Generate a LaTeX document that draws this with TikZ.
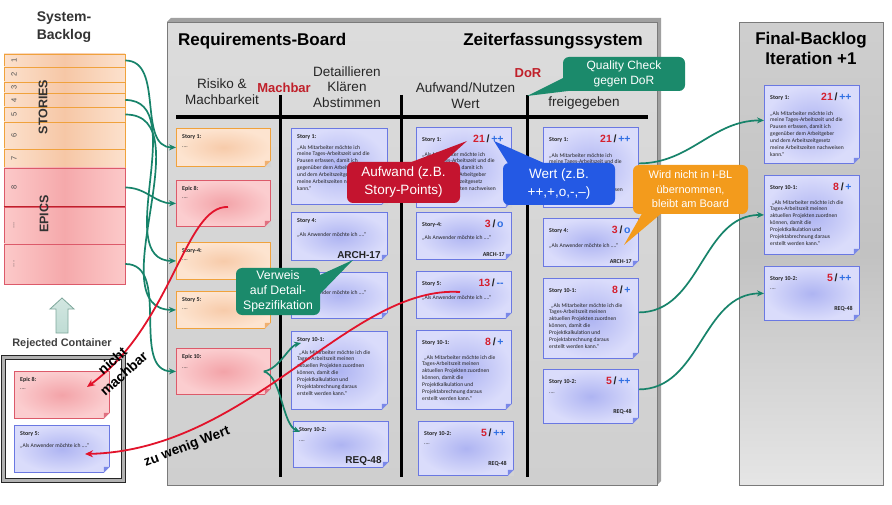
\documentclass[tikz,border=0pt]{standalone}
\usepackage{fontspec}
\setmainfont{Liberation Sans}
\newfontfamily\cardf{Carlito}
\usetikzlibrary{arrows.meta}
\definecolor{boardtop}{HTML}{DCDCDC}
\definecolor{boardbot}{HTML}{CFCFCF}
\definecolor{boardbg}{HTML}{D3D3D3}
\definecolor{boardedge}{HTML}{A0A0A0}
\definecolor{panelline}{HTML}{7A7A7A}
\definecolor{orgb}{HTML}{F0A23C}
\definecolor{orgin}{HTML}{F7CBAA}
\definecolor{orgout}{HTML}{FDE4D0}
\definecolor{ofold}{HTML}{F0B070}
\definecolor{pinkb}{HTML}{DC5A6A}
\definecolor{pinkin}{HTML}{F3A3A8}
\definecolor{pinkout}{HTML}{FBCDCF}
\definecolor{rfold}{HTML}{E07080}
\definecolor{blueb}{HTML}{6A78E2}
\definecolor{bluein}{HTML}{AEB4F2}
\definecolor{blueout}{HTML}{DADCFB}
\definecolor{bfold}{HTML}{7A88E8}
\definecolor{arrgreen}{HTML}{17836A}
\definecolor{arrred}{HTML}{E2132B}
\definecolor{cgreen}{HTML}{1B8A6B}
\definecolor{cred}{HTML}{C4142F}
\definecolor{cblue}{HTML}{2459E4}
\definecolor{corange}{HTML}{F39B1C}
\definecolor{hdrred}{HTML}{C0202A}
\definecolor{numred}{HTML}{D41F2E}
\definecolor{numblue}{HTML}{2F6FE3}
\definecolor{txt}{HTML}{222222}
\definecolor{stA}{HTML}{FCE1CD}
\definecolor{stB}{HTML}{F6C7A6}
\definecolor{epA}{HTML}{FCC9C9}
\definecolor{epB}{HTML}{F5A9AB}
\definecolor{upf}{HTML}{BFDCD4}
\definecolor{upb}{HTML}{7FA89C}
\newcommand\fs[2]{\fontsize{#1}{#2}\selectfont}
\newcommand\txtA{„Als Mitarbeiter möchte ich\\meine Tages-Arbeitszeit und die\\Pausen erfassen, damit ich\\gegenüber dem Arbeitgeber\\und dem Arbeitszeitgesetz\\meine Arbeitszeiten nachweisen\\kann.“}
\newcommand\txtB{\hspace*{2pt}„Als Mitarbeiter möchte ich die\\Tages-Arbeitszeit meinen\\aktuellen Projekten zuordnen\\können, damit die\\Projektkalkulation und\\Projektabrechnung daraus\\erstellt werden kann.“}
\newcommand\txtC{„Als Anwender möchte ich ....“}
% card: name, style, x, y, w, h, foldcolor, bg
\newcommand\mkcard[8]{%
  \node[#2, minimum width=#5pt, minimum height=#6pt, anchor=north west] (#1) at (#3,#4) {};
  \fill[#8] ([xshift=-6pt]#1.south east) -- ([xshift=0.5pt,yshift=-0.5pt]#1.south east) -- ([yshift=6pt]#1.south east) -- cycle;
  \fill[#7] ([xshift=-6pt]#1.south east) -- ([yshift=6pt]#1.south east) -- ([xshift=-6pt,yshift=6pt]#1.south east) -- cycle;
}
\newcommand\hdr[3]{\node[hdrf] (#1h) at ([xshift=6pt,yshift=-#2pt]#1.north west) {#3};}
\newcommand\bdy[3]{\node[bodyf] (#1b) at ([xshift=6pt,yshift=-#2pt]#1.north west) {#3};}
\newcommand\est[3]{\node[estf] (#1e) at ([xshift=-8pt,yshift=-8pt]#1.north east) {\textcolor{numred}{#2}\,\textcolor{txt}{/}\,\textcolor{numblue}{#3}};}
\newcommand\cod[4]{\node[#4, anchor=south east] (#1c) at ([xshift=-7pt,yshift=#3pt]#1.south east) {#2};}
\begin{document}
\begin{tikzpicture}[x=1pt,y=-1pt,
  every node/.style={inner sep=0pt},
  ocard/.style={draw=orgb, line width=0.8pt, inner color=orgin, outer color=orgout},
  rcard/.style={draw=pinkb, line width=0.8pt, inner color=pinkin, outer color=pinkout},
  bcard/.style={draw=blueb, line width=0.8pt, inner color=bluein, outer color=blueout},
  strow/.style={draw=orgb, line width=0.8pt, left color=stA, right color=stA, middle color=stB, minimum width=121pt},
  eprow/.style={draw=pinkb, line width=0.8pt, left color=epA, right color=epA, middle color=epB, minimum width=121pt},
  rownum/.style={rotate=90, font=\fs{7.5}{8}, text=black!70},
  hdrf/.style={font=\cardf\bfseries\fs{6}{7}, anchor=north west, text=txt},
  bodyf/.style={font=\cardf\fs{5.6}{6.9}, align=left, anchor=north west, text=txt},
  estf/.style={font=\bfseries\fs{10.5}{12}, anchor=north east},
  bigcode/.style={font=\bfseries\fs{10}{12}, text=txt},
  smallcode/.style={font=\cardf\bfseries\fs{6}{7}, text=txt},
  ttl/.style={font=\bfseries\fs{17}{20}, text=black},
  colh/.style={font=\fs{13.5}{15.5}, align=center, text=black!85},
  redh/.style={font=\bfseries\fs{13}{15}, text=hdrred},
  callout/.style={rounded corners=6pt, text=white, align=center},
  garrow/.style={draw=arrgreen, line width=1.7pt, -{Stealth[length=7pt,width=6pt]}},
  rarrow/.style={draw=arrred, line width=1.8pt, -{Stealth[length=8pt,width=7pt]}},
  lbl/.style={font=\bfseries\fs{14}{17}, align=center, text=black}
]
\useasboundingbox (0,0) rectangle (892,505);
\fill[white] (0,0) rectangle (892,505);

% ---------- System backlog ----------
\node[font=\bfseries\fs{14}{18}, align=center, text=black!80] (sbt) at (64,27) {System-\\Backlog};
\node[strow, minimum height=13pt] (r1) at (64.5,60.5) {};
\node[strow, minimum height=15pt] (r2) at (64.5,74.5) {};
\node[strow, minimum height=11pt] (r3) at (64.5,87.5) {};
\node[strow, minimum height=14pt] (r4) at (64.5,100) {};
\node[strow, minimum height=15pt] (r5) at (64.5,114.5) {};
\node[strow, minimum height=27pt] (r6) at (64.5,135.5) {};
\node[strow, minimum height=19pt] (r7) at (64.5,158.5) {};
\node[eprow, minimum height=39pt] (r8) at (64.5,187.5) {};
\node[eprow, minimum height=37pt] (r9) at (64.5,225.5) {};
\node[eprow, minimum height=40pt] (r10) at (64.5,264) {};
\draw[draw=hdrred, line width=0.8pt] (r9.north west) -- (r9.north east);
\node[rownum] (n1) at (r1.center -| 14,0) {1};
\node[rownum] (n2) at (r2.center -| 14,0) {2};
\node[rownum] (n3) at (r3.center -| 14,0) {3};
\node[rownum] (n4) at (r4.center -| 14,0) {4};
\node[rownum] (n5) at (r5.center -| 14,0) {5};
\node[rownum] (n6) at (r6.center -| 14,0) {6};
\node[rownum] (n7) at (r7.center -| 14,0) {7};
\node[rownum] (n8) at (r8.center -| 14,0) {8};
\node[rownum] (n9) at (r9.center -| 14,0) {...};
\node[rownum] (n10) at (r10.center -| 14,0) {...};
\node[rotate=90, font=\bfseries\fs{12.5}{14}, text=black!80] (stories) at (43,107) {STORIES};
\node[rotate=90, font=\bfseries\fs{12.5}{14}, text=black!80] (epics) at (44,214) {EPICS};

% ---------- rejected container ----------
\shade[top color=upf!70!white, bottom color=upf, draw=upb, line width=0.8pt] (56,333) -- (56,309) -- (50,309) -- (62,298) -- (74,309) -- (68,309) -- (68,333) -- cycle;
\node[font=\bfseries\fs{10.9}{13}, text=black!75] (rejt) at (62,344) {Rejected Container};
\node[draw=black!85, line width=1.2pt, fill=black!30, minimum width=124pt, minimum height=127pt, anchor=north west] (rej) at (1,355) {};
\node[draw=black!85, line width=0.8pt, fill=white, minimum width=116pt, minimum height=119pt, anchor=north west] (rejin) at (5,359) {};
\mkcard{re8}{rcard}{14}{371}{95}{47}{rfold}{white}
\hdr{re8}{6}{Epic 8:} \bdy{re8}{18}{....}
\mkcard{rs5}{bcard}{14}{425}{95}{47}{bfold}{white}
\hdr{rs5}{6}{Story 5:} \bdy{rs5}{18}{\txtC}

% ---------- requirements board ----------
\fill[boardedge] (167,22) -- (171,18) -- (661,18) -- (661,481) -- (657,485) -- cycle;
\node[draw=panelline, line width=0.6pt, top color=boardtop, bottom color=boardbot, minimum width=490pt, minimum height=463pt, anchor=north west] (board) at (167,22) {};
\node[ttl, anchor=west] (rbt) at (178,41) {Requirements-Board};
\node[ttl, anchor=east] (zts) at (643,41) {Zeiterfassungssystem};
\node[colh] (h1) at (222,91.5) {Risiko \&\\Machbarkeit};
\node[redh] (mb) at (284,88) {Machbar};
\node[colh] (h2) at (347,87) {Detaillieren\\Klären\\Abstimmen};
\node[colh] (h3) at (465.5,95.5) {Aufwand/Nutzen\\Wert};
\node[redh] (dor) at (528,73) {DoR};
\node[colh] (h4) at (584,103) {freigegeben};
\draw[line width=3.5pt] (176,117) -- (648,117);
\draw[line width=3pt] (280,95) -- (280,477);
\draw[line width=3pt] (401,95) -- (401,477);
\draw[line width=3pt] (527,95) -- (527,477);

% column 1
\mkcard{c1s1}{ocard}{176}{128}{94}{38}{ofold}{boardbg}
\hdr{c1s1}{6}{Story 1:} \bdy{c1s1}{19}{....}
\mkcard{c1e8}{rcard}{176}{180}{94}{46}{rfold}{boardbg}
\hdr{c1e8}{6}{Epic 8:} \bdy{c1e8}{18}{....}
\mkcard{c1s4}{ocard}{176}{242}{94}{37}{ofold}{boardbg}
\hdr{c1s4}{6}{Story-4:} \bdy{c1s4}{18}{....}
\mkcard{c1s5}{ocard}{176}{291}{94}{37}{ofold}{boardbg}
\hdr{c1s5}{6}{Story 5:} \bdy{c1s5}{18}{....}
\mkcard{c1e10}{rcard}{176}{348}{94}{46}{rfold}{boardbg}
\hdr{c1e10}{6}{Epic 10:} \bdy{c1e10}{20}{....}

% column 2
\mkcard{c2s1}{bcard}{291}{128}{96}{76}{bfold}{boardbg}
\hdr{c2s1}{6}{Story 1:} \bdy{c2s1}{17}{\txtA}
\mkcard{c2s4}{bcard}{291}{212}{96}{48}{bfold}{boardbg}
\hdr{c2s4}{6}{Story 4:} \bdy{c2s4}{20}{\txtC}
\cod{c2s4}{ARCH-17}{2}{bigcode}
\mkcard{c2s5}{bcard}{291}{272}{96}{46}{bfold}{boardbg}
\hdr{c2s5}{6}{Story 5:} \bdy{c2s5}{18}{\txtC}
\mkcard{c2s101}{bcard}{291}{331}{96}{78}{bfold}{boardbg}
\hdr{c2s101}{6}{Story 10-1:} \bdy{c2s101}{19}{\txtB}
\mkcard{c2s102}{bcard}{293}{421}{95}{46}{bfold}{boardbg}
\hdr{c2s102}{6}{Story 10-2:} \bdy{c2s102}{20}{....}
\cod{c2s102}{REQ-48}{2}{bigcode}

% column 3
\mkcard{c3s1}{bcard}{416}{127}{95}{80}{bfold}{boardbg}
\hdr{c3s1}{10}{Story 1:} \est{c3s1}{21}{++} \bdy{c3s1}{25}{\txtA}
\mkcard{c3s4}{bcard}{416}{212}{95}{47}{bfold}{boardbg}
\hdr{c3s4}{10}{Story-4:} \est{c3s4}{3}{o} \bdy{c3s4}{23}{\txtC}
\cod{c3s4}{ARCH-17}{3}{smallcode}
\mkcard{c3s5}{bcard}{416}{271}{95}{47}{bfold}{boardbg}
\hdr{c3s5}{10}{Story 5:} \est{c3s5}{13}{-{}-} \bdy{c3s5}{24}{\txtC}
\mkcard{c3s101}{bcard}{416}{330}{95}{79}{bfold}{boardbg}
\hdr{c3s101}{10}{Story 10-1:} \est{c3s101}{8}{+} \bdy{c3s101}{25}{\txtB}
\mkcard{c3s102}{bcard}{418}{421}{95}{54}{bfold}{boardbg}
\hdr{c3s102}{10}{Story 10-2:} \est{c3s102}{5}{++} \bdy{c3s102}{23}{....}
\cod{c3s102}{REQ-48}{9}{smallcode}

% column 4
\mkcard{c4s1}{bcard}{543}{127}{95}{80}{bfold}{boardbg}
\hdr{c4s1}{10}{Story 1:} \est{c4s1}{21}{++} \bdy{c4s1}{26}{\txtA}
\mkcard{c4s4}{bcard}{543}{218}{95}{48}{bfold}{boardbg}
\hdr{c4s4}{10}{Story 4:} \est{c4s4}{3}{o} \bdy{c4s4}{25}{\txtC}
\cod{c4s4}{ARCH-17}{3}{smallcode}
\mkcard{c4s101}{bcard}{543}{278}{95}{80}{bfold}{boardbg}
\hdr{c4s101}{10}{Story 10-1:} \est{c4s101}{8}{+} \bdy{c4s101}{25}{\txtB}
\mkcard{c4s102}{bcard}{543}{369}{95}{54}{bfold}{boardbg}
\hdr{c4s102}{10}{Story 10-2:} \est{c4s102}{5}{++} \bdy{c4s102}{24}{....}
\cod{c4s102}{REQ-48}{9}{smallcode}

% ---------- final backlog ----------
\node[draw=panelline, line width=0.8pt, top color=black!19, bottom color=black!10, middle color=black!24, minimum width=144pt, minimum height=463pt, anchor=north west] (final) at (739,22) {};
\node[ttl, align=center] (fbt) at (811,48) {Final-Backlog\\Iteration +1};
\mkcard{f1}{bcard}{764}{85}{95}{78}{bfold}{black!21}
\hdr{f1}{10}{Story 1:} \est{f1}{21}{++} \bdy{f1}{26}{\txtA}
\mkcard{f101}{bcard}{764}{175}{95}{79}{bfold}{black!23}
\hdr{f101}{10}{Story 10-1:} \est{f101}{8}{+} \bdy{f101}{25}{\txtB}
\mkcard{f102}{bcard}{764}{266}{95}{54}{bfold}{black!24}
\hdr{f102}{10}{Story 10-2:} \est{f102}{5}{++} \bdy{f102}{23}{....}
\cod{f102}{REQ-48}{9}{smallcode}

% ---------- green arrows ----------
\draw[garrow] (r1.east) to[out=0,in=180] (c1s1.west);
\draw[garrow] (r4.east) to[out=0,in=180] (c1s4.west);
\draw[garrow] (r5.east) to[out=0,in=180] (c1s5.west);
\draw[garrow] (r8.east) to[out=0,in=180] (c1e8.west);
\draw[garrow] (r10.east) to[out=0,in=180] (c1e10.west);
\coordinate (e10b) at ([xshift=-7pt]c1e10.east);
\coordinate (t101) at ([xshift=10pt,yshift=-12pt]c2s101.north west);
\coordinate (t102) at ([xshift=7pt,yshift=-11pt]c2s102.north west);
\draw[garrow] (e10b) .. controls +(15,-2) and +(-12,3) .. (t101);
\draw[garrow] (e10b) .. controls +(18,5) and +(-18,-8) .. (t102);
\draw[garrow] ([yshift=4pt]c4s1.east) to[out=0,in=180] ([yshift=4pt]f1.west);
\draw[garrow] ([yshift=6pt]c4s101.east) to[out=0,in=180] (f101.west);
\draw[garrow] ([yshift=7pt]c4s102.east) to[out=0,in=180] (f102.west);

% ---------- red arrows ----------
\coordinate (nm0) at ([xshift=52pt,yshift=-27pt]c1e8.north west);
\coordinate (nm1) at ([xshift=73pt,yshift=-16pt]re8.north west);
\draw[rarrow] (nm0) .. controls +(-43,-2) and +(85,-62) .. (nm1);
\coordinate (zw0) at ([xshift=44pt,yshift=-21pt]c3s5.north west);
\coordinate (zw1) at ([xshift=71pt,yshift=-29pt]rs5.north west);
\draw[rarrow] (zw0) .. controls +(-110,-7) and +(165,-4) .. (zw1);
\node[lbl, rotate=42] (nmlbl) at (118,367) {nicht\\machbar};
\node[lbl, rotate=21, font=\bfseries\fs{13.5}{16}] (zwlbl) at (187,447) {zu wenig Wert};

% ---------- callouts ----------
\node[callout, fill=cgreen, minimum width=122pt, minimum height=34pt, font=\fs{12}{15}] (qc) at (624,74) {Quality Check\\gegen DoR};
\coordinate (qtip) at (527,96);
\fill[cgreen] ([xshift=2pt,yshift=14pt]qc.south west) -- (qtip) -- ([xshift=20pt,yshift=2pt]qc.south west) -- cycle;

\node[callout, fill=cred, minimum width=113pt, minimum height=41pt, font=\fs{13.5}{18}] (ac) at (403.5,182.5) {Aufwand (z.B.\\Story-Points)};
\coordinate (atip) at (467,141);
\fill[cred] ([xshift=60pt,yshift=-2pt]ac.north west) -- (atip) -- ([xshift=95pt,yshift=-2pt]ac.north west) -- cycle;

\node[callout, fill=cblue, minimum width=112pt, minimum height=42pt, font=\fs{13.5}{18}] (wc) at (559,184) {Wert (z.B.\\++,+,o,-,--)};
\coordinate (wtip) at (494,141);
\fill[cblue] ([xshift=6pt,yshift=-2pt]wc.north west) -- (wtip) -- ([xshift=45pt,yshift=-2pt]wc.north west) -- cycle;

\node[callout, fill=corange, minimum width=115pt, minimum height=49pt, font=\fs{11}{14.5}] (oc) at (690.5,189.5) {Wird nicht in I-BL\\übernommen,\\bleibt am Board};
\coordinate (otip) at (624,245);
\fill[corange] ([xshift=10pt,yshift=2pt]oc.south west) -- (otip) -- ([xshift=30pt,yshift=2pt]oc.south west) -- cycle;

\node[callout, fill=cgreen, minimum width=84pt, minimum height=47pt, font=\fs{12.3}{15}] (vc) at (278,291.5) {Verweis\\auf Detail-\\Spezifikation};
\coordinate (vtip) at (353,260);
\fill[cgreen] ([xshift=-2pt,yshift=-8pt]vc.north east) -- (vtip) -- ([xshift=-2pt,yshift=-28pt]vc.north east) -- cycle;
\end{tikzpicture}
\end{document}
